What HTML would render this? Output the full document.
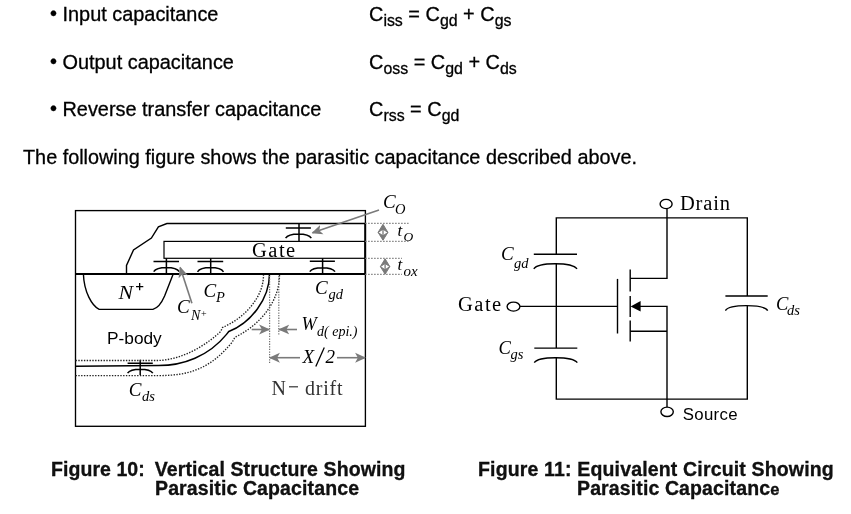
<!DOCTYPE html>
<html><head><meta charset="utf-8">
<style>
html,body{margin:0;padding:0;background:#fff;width:851px;height:514px;overflow:hidden;position:relative}
.t{position:absolute;font-family:"Liberation Sans",sans-serif;font-size:19.9px;color:#000;white-space:nowrap;line-height:1}
.t sub{font-size:0.8em;vertical-align:-0.34em;line-height:0}
.cap{position:absolute;font-family:"Liberation Sans",sans-serif;font-weight:bold;font-size:19.5px;color:#111;white-space:nowrap;line-height:1}
svg{position:absolute;left:0;top:0;will-change:transform}
.t,.cap{will-change:transform;-webkit-text-stroke:0.3px #000}
.ser{font-family:"Liberation Serif",serif}
.it{font-family:"Liberation Serif",serif;font-style:italic}
.sans{font-family:"Liberation Sans",sans-serif}
</style></head><body>
<div class="t" style="left:50.3px;top:5px"><span style="position:relative;top:-1px">&bull;</span> Input capacitance</div>
<div class="t" style="left:50.3px;top:53px"><span style="position:relative;top:-1px">&bull;</span> Output capacitance</div>
<div class="t" style="left:50.3px;top:100px"><span style="position:relative;top:-1px">&bull;</span> Reverse transfer capacitance</div>
<div class="t" style="left:369px;top:5px">C<sub>iss</sub> = C<sub>gd</sub> + C<sub>gs</sub></div>
<div class="t" style="left:369px;top:53px">C<sub>oss</sub> = C<sub>gd</sub> + C<sub>ds</sub></div>
<div class="t" style="left:369px;top:100px">C<sub>rss</sub> = C<sub>gd</sub></div>
<div class="t" style="left:23px;top:148px;font-size:19.83px">The following figure shows the parasitic capacitance described above.</div>
<div class="cap" style="left:51px;top:459.5px;letter-spacing:0.06px">Figure 10: <span style="letter-spacing:0.1px;margin-left:4.5px">Vertical Structure Showing</span></div>
<div class="cap" style="left:155px;top:478.5px;letter-spacing:0.12px">Parasitic Capacitance</div>
<div class="cap" style="left:478px;top:459.5px;letter-spacing:0.16px">Figure 11: Equivalent Circuit Showing</div>
<div class="cap" style="left:577px;top:478.5px;letter-spacing:0.12px">Parasitic Capacitanc<span style="font-size:16.5px">e</span></div>

<svg width="851" height="514" viewBox="0 0 851 514">
<defs>
<marker id="ah" viewBox="0 0 10 10" refX="9" refY="5" markerWidth="11" markerHeight="11" markerUnits="userSpaceOnUse" orient="auto">
<path d="M0,0.5 L10,5 L0,9.5 L2.5,5 Z" fill="#7a7a7a"/>
</marker>
</defs>
<g fill="none" stroke="#000" stroke-width="1.4">
<rect x="75.5" y="210.6" width="289.9" height="215.7" stroke-width="1.35"/>
<path d="M126.5,274 L126.5,265.4 L133.5,250 L151.4,238.1 L158.4,226.8 L166.9,223.5 L365.2,223.5"/>
<rect x="164" y="241.4" width="201.2" height="16.9" stroke-width="1.2"/>
<path d="M83.4,274 C84,292 92,306 99.2,309.4 L152.9,309.4 C158,308 162,302 164.6,296 L173.2,274"/>
<g stroke-width="1.5">
<path d="M153.5,261.5 H179 M166.4,258.3 V274 M153.7,271.6 C157,266 176,266 179.2,271.6"/>
<path d="M197.5,261.5 H223.2 M210.7,258.3 V274 M197.5,271.8 C201,266.2 220,266.2 223.5,271.8"/>
<path d="M309.8,261.3 H334.9 M322.6,258.3 V274 M309.8,271.7 C313,266.3 331.5,266.3 335,271.7"/>
<path d="M285.8,227.9 H310.9 M299,223.5 V241.4 M285.6,238.1 C289,232.5 308,232.5 311.3,238.1"/>
<path d="M127.6,363.2 H152.8 M140.2,359.7 V375 M127.6,373.2 C131,368 149.5,368 152.8,373.2"/>
</g>
<path d="M75.5,366.2 L158.6,365.6 C183,365.6 208.5,356.5 226.5,334.4 L228.8,331.5 C250.7,323 269.5,299 269.5,274" stroke-width="1.5"/>
</g>
<path d="M75.5,274 H365.2" stroke="#000" stroke-width="2.1"/>
<path d="M365.2,223.5 V274" stroke="#000" stroke-width="1.9"/>
<g fill="none" stroke="#222" stroke-width="1.35" stroke-dasharray="1.4,1.4">
<path d="M75.5,360.5 L156.4,360.5 C176,360.5 199.5,351 220.7,331.5 L222.5,327.6 C244,318 263.5,298 263.5,275"/>
<path d="M75.5,375.6 L158.6,375.6 C190,375.6 210.5,368.5 232.3,342 L234.9,337.3 C262,324 279.5,300 279.5,275"/>
</g>
<g fill="none" stroke="#777" stroke-width="1.2" stroke-dasharray="1.4,1.6">
</g><g fill="none" stroke="#707070" stroke-width="1.2" stroke-dasharray="1.3,1.3"><path d="M269.6,276 V364"/>
<path d="M278.8,276 V335"/></g><g fill="none" stroke="#777" stroke-width="1.2" stroke-dasharray="1.4,1.6">
<path d="M365.2,223.4 H408.5 M365.2,241.3 H408.5 M365.2,258.3 H402 M365.2,274.4 H402"/>
</g>
<g fill="none" stroke="#7a7a7a" stroke-width="1.6">
<path d="M379,210 L312.5,232.8" marker-end="url(#ah)"/>
<path d="M191.9,303.3 L180.2,267.5" marker-end="url(#ah)"/>
<path d="M251.7,329.5 H269" marker-end="url(#ah)"/>
<path d="M297,329.5 H279.3" marker-end="url(#ah)"/>
<path d="M300,357.7 H270" marker-end="url(#ah)"/>
<path d="M337,357.7 H365" marker-end="url(#ah)"/>
</g>
<g fill="#7a7a7a" stroke="#7a7a7a" stroke-width="1" stroke-linejoin="round">
<path d="M383,224.3 L387.9,232.4 L383,229.2 L378.1,232.4 Z M383,240.2 L387.9,232.4 L383,235.8 L378.1,232.4 Z"/>
<path d="M383,225 V240" stroke-width="1.3"/>
<path d="M385.1,258.8 L389.8,266.6 L385.1,263.5 L380.4,266.6 Z M385.1,274.2 L389.8,266.6 L385.1,269.8 L380.4,266.6 Z"/>
<path d="M385.1,259.5 V273.5" stroke-width="1.3"/>
</g>
<g fill="#000">
<text x="252" y="256.8" class="ser" font-size="20.5" letter-spacing="1.5">Gate</text>
<text transform="translate(118.5,298.6) scale(1.15,1)" class="it" font-size="19">N</text>
<path d="M136,286.6 H143.3 M139.65,282.9 V290.3" stroke="#000" stroke-width="1.3"/>
<text x="177" y="312.6" class="it" font-size="19">C</text>
<text x="191" y="320.4" class="it" font-size="14">N</text>
<text x="201" y="316.5" class="ser" font-size="10">+</text>
<text x="203.5" y="297" class="it" font-size="19">C</text>
<text x="216" y="301.7" class="it" font-size="14.5">P</text>
<text x="315" y="294.2" class="it" font-size="19">C</text>
<text x="328.5" y="298.6" class="it" font-size="14.5">gd</text>
<text x="383" y="208.4" class="it" font-size="19">C</text>
<text x="395" y="213.6" class="it" font-size="14.5">O</text>
<text x="397.5" y="236" class="it" font-size="17">t</text>
<text x="403.5" y="240.7" class="it" font-size="13.5">O</text>
<text x="397.5" y="269.6" class="it" font-size="17">t</text>
<text x="403.5" y="275.8" class="it" font-size="15">ox</text>
<text x="128.8" y="395.6" class="it" font-size="19">C</text>
<text x="142" y="400.9" class="it" font-size="14.5">ds</text>
<text x="301.5" y="330.4" class="it" font-size="18.3">W</text>
<text x="317" y="336" class="it" font-size="14">d( epi.)</text>
<text x="302.5" y="362.5" class="it" font-size="19">X</text><path d="M324.3,347.5 L315.8,366.5" stroke="#000" stroke-width="1.3"/><text x="325.5" y="362.5" class="it" font-size="19">2</text>
<text x="271.5" y="394.5" class="ser" font-size="20" fill="#333">N</text><path d="M289,386.8 H298" stroke="#333" stroke-width="1.2"/><text x="305" y="394.5" class="ser" font-size="20" fill="#333" letter-spacing="0.8">drift</text>
<text x="107" y="343.5" class="sans" font-size="17.3">P-body</text>
</g>

<g fill="none" stroke="#000" stroke-width="1.4">
<path d="M556.3,254.3 V217.9 H747.3 V295.9"/>
<path d="M747.3,305.7 V399.1 H556.3 V357"/>
<path d="M556.3,348.1 V263.3"/>
<path d="M533.8,254.3 H577 M533.8,268.9 C538,262 572,262 577,268.9"/>
<path d="M534.3,348.1 H577.3 M534.3,362.7 C538.5,356 572.5,356 577.3,362.7"/>
<path d="M725.4,296 H767.7 M725.4,310.6 C729.5,304 763.5,304 767.7,310.6"/>
<path d="M520,306.4 H617.5"/>
<path d="M617.5,278.9 V333.5"/>
<path d="M630.2,269.6 V291.5 M630.2,295.9 V316.9 M630.2,320.4 V341.4"/>
<path d="M630.2,278.4 H667 V208.7"/>
<path d="M640,306.4 H667 V407"/>
<path d="M630.2,331.2 H667"/>
<ellipse cx="666.1" cy="204" rx="6" ry="4.6"/>
<ellipse cx="513.5" cy="306.6" rx="6.4" ry="4.5"/>
<ellipse cx="667.1" cy="411.8" rx="6.2" ry="4.7"/>
</g>
<path d="M630.6,306.4 L640.6,301.1 L640.6,311.6 Z" fill="#000"/>
<g fill="#000">
<text x="680" y="210.3" class="ser" font-size="20.5" letter-spacing="0.8">Drain</text>
<text x="458" y="310.8" class="ser" font-size="20.5" letter-spacing="1.5">Gate</text>
<text x="682.8" y="420.3" class="sans" font-size="16.8" letter-spacing="0.3">Source</text>
<text x="501" y="259.9" class="it" font-size="19">C</text>
<text x="514" y="267.7" class="it" font-size="14.5">gd</text>
<text x="498.5" y="353.6" class="it" font-size="18.5">C</text>
<text x="510.5" y="359.2" class="it" font-size="14.5">gs</text>
<text x="776" y="309.7" class="it" font-size="18.5">C</text>
<text x="787" y="315" class="it" font-size="14.5">ds</text>
</g>
</svg>
</body></html>
